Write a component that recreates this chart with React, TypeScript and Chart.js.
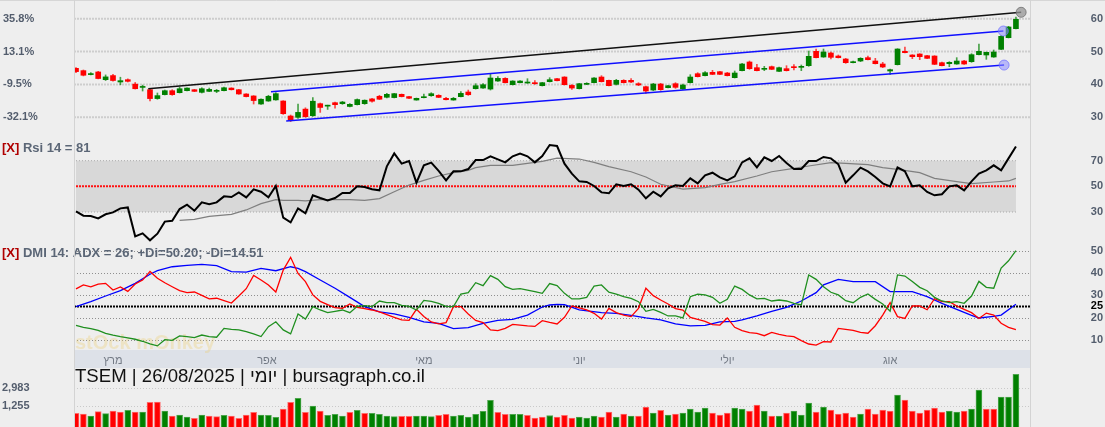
import React, { useEffect, useRef } from 'react';
import { Chart, registerables } from 'chart.js';

Chart.register(...registerables);

// ---------------- data ----------------
const opens = [
  44.9, 44.2, 43.0, 43.8, 41.45, 42.7, 40.75, 41.45, 40.1, 39.1,
  38.4, 35.7, 36.9, 38.1, 37.5, 38.1, 38.4, 37.6, 37.9, 37.9,
  38.1, 38.9, 38.4, 37.1, 36.5, 34.05, 34.96, 35.3, 34.96, 30.4,
  30.0, 32.5, 30.5, 34.15, 33.4, 34.45, 34.15, 33.3, 33.85, 34.15,
  35.6, 36.4, 36.1, 36.0, 37.0, 36.3, 35.26, 35.97, 36.58, 36.68,
  35.77, 35.26, 36.28, 37.7, 38.71, 38.91, 38.6, 41.04, 41.85, 39.93,
  40.54, 40.43, 40.54, 39.62, 40.84, 41.75, 42.26, 39.72, 38.71, 40.03,
  40.54, 42.26, 41.25, 40.03, 41.25, 41.25, 40.23, 39.32, 38.3, 40.13,
  39.02, 40.23, 38.61, 40.54, 43.27, 42.67, 43.68, 43.88, 43.48, 42.06,
  44.19, 46.83, 45.1, 44.6, 45.41, 43.99, 44.8, 45.31, 45.2, 45.71,
  50.07, 48.35, 49.57, 48.65, 47.74, 46.62, 47.13, 48.15, 47.13, 46.22,
  44.09, 46.02, 50.07, 48.96, 49.26, 48.75, 48.65, 46.62, 46.32, 46.22,
  47.13, 46.93, 49.06, 48.96, 48.35, 50.68, 54.23, 56.97,
];
const highs = [
  45.1, 44.4, 43.6, 44.0, 42.9, 43.1, 42.2, 41.7, 40.6, 39.8,
  38.8, 37.4, 38.3, 38.4, 39.2, 39.0, 38.5, 39.0, 38.9, 38.5,
  39.2, 39.0, 38.5, 37.2, 36.6, 35.6, 36.7, 37.5, 35.06, 30.7,
  34.05, 32.9, 35.98, 34.35, 33.7, 34.66, 34.86, 34.15, 35.6, 35.3,
  35.8, 36.7, 37.3, 37.3, 37.1, 36.4, 35.87, 37.09, 37.49, 36.88,
  36.07, 36.07, 37.8, 38.3, 40.23, 40.23, 43.17, 42.36, 42.06, 41.14,
  41.14, 41.75, 41.14, 40.64, 42.06, 41.85, 42.36, 39.93, 40.33, 40.54,
  42.06, 42.67, 41.35, 41.55, 41.45, 41.75, 40.54, 39.52, 40.33, 40.33,
  39.72, 40.54, 40.13, 42.97, 43.58, 43.88, 44.29, 43.98, 43.68, 44.09,
  46.42, 47.13, 46.12, 45.51, 45.61, 45.31, 45.71, 46.02, 45.92, 50.17,
  50.78, 50.78, 49.87, 48.96, 47.94, 47.13, 48.15, 48.65, 47.94, 46.73,
  44.7, 50.88, 51.39, 49.06, 49.36, 48.86, 48.75, 46.83, 46.93, 48.15,
  47.33, 49.36, 52.3, 49.87, 50.48, 54.84, 57.68, 60.52,
];
const lows = [
  43.6, 42.6, 42.9, 41.7, 41.2, 41.0, 39.9, 40.75, 38.6, 38.0,
  35.0, 35.5, 36.8, 36.7, 37.4, 38.0, 37.8, 37.4, 37.8, 37.5,
  38.0, 38.3, 37.0, 36.2, 34.05, 33.95, 34.86, 35.2, 30.9, 28.7,
  29.7, 30.0, 30.3, 31.5, 32.4, 32.8, 33.95, 33.2, 33.75, 33.95,
  34.6, 35.4, 35.9, 35.9, 36.2, 35.7, 35.2, 35.87, 36.38, 35.97,
  35.26, 35.2, 36.17, 36.68, 38.6, 38.81, 38.3, 40.94, 40.43, 39.83,
  40.43, 40.33, 40.03, 39.52, 40.74, 41.04, 39.83, 38.51, 38.61, 39.93,
  40.43, 40.74, 39.52, 39.83, 40.43, 40.54, 39.62, 37.29, 38.1, 38.2,
  38.91, 38.81, 38.51, 40.43, 42.26, 42.56, 42.97, 42.97, 42.57, 41.96,
  44.09, 44.6, 44.09, 44.19, 44.5, 43.89, 44.09, 44.39, 44.19, 45.51,
  48.04, 48.25, 47.74, 48.04, 46.42, 46.52, 46.93, 47.43, 46.22, 45.1,
  43.07, 45.92, 49.57, 47.84, 47.54, 47.84, 46.02, 45.61, 45.41, 46.12,
  46.12, 46.73, 48.96, 47.64, 48.25, 50.58, 54.13, 56.87,
];
const closes = [
  43.9, 42.8, 43.3, 41.8, 42.3, 41.2, 41.15, 40.95, 38.7, 39.2,
  35.7, 36.6, 38.1, 36.9, 38.7, 38.9, 37.9, 38.7, 38.5, 38.2,
  39.0, 38.4, 37.1, 36.3, 35.1, 35.5, 36.4, 37.2, 31.1, 29.0,
  31.5, 30.2, 34.9, 33.0, 33.6, 33.85, 34.65, 33.95, 35.4, 35.2,
  34.9, 35.5, 37.0, 37.2, 36.3, 35.8, 35.77, 36.27, 37.19, 36.07,
  35.36, 35.77, 37.29, 36.88, 39.62, 39.93, 41.96, 41.85, 40.54, 41.04,
  41.04, 40.74, 40.23, 40.54, 41.45, 41.14, 39.93, 38.91, 40.23, 40.33,
  41.96, 40.84, 39.62, 41.25, 40.54, 40.74, 39.83, 38.0, 40.13, 38.41,
  39.62, 39.12, 39.83, 42.26, 42.36, 43.58, 43.07, 43.07, 42.67, 43.48,
  46.22, 44.8, 44.19, 44.9, 44.6, 45.1, 44.19, 45.1, 45.41, 48.55,
  48.15, 49.87, 48.25, 48.15, 46.62, 46.93, 47.94, 47.54, 46.32, 45.31,
  44.5, 50.78, 49.67, 48.45, 48.45, 47.94, 46.12, 45.71, 46.73, 47.13,
  46.22, 49.06, 50.07, 49.77, 49.87, 54.64, 57.48, 59.81,
];
const volumes = [
  561, 498, 309, 718, 529, 781, 687, 844, 687, 687,
  1599, 1631, 781, 309, 403, 215, 89, 403, 309, 246,
  372, 309, 89, 403, 655, 403, 372, 183, 970, 1599,
  1977, 655, 1253, 781, 372, 466, 309, 655, 844, 561,
  561, 466, 309, 246, 277, 277, 309, 309, 246, 372,
  466, 309, 372, 215, 466, 750, 1788, 655, 466, 466,
  466, 372, 120, 215, 356, 215, 372, 120, 215, 120,
  309, 215, 687, 215, 498, 309, 309, 1159, 592, 844,
  403, 498, 592, 970, 687, 1064, 592, 403, 592, 1064,
  970, 781, 1347, 781, 309, 309, 592, 781, 403, 1536,
  687, 1159, 875, 498, 592, 215, 498, 970, 498, 875,
  781, 2292, 1819, 781, 592, 875, 1064, 687, 781, 687,
  781, 970, 2764, 970, 970, 2103, 2103, 4243,
];
const volumeUp = [
  0, 0, 1, 0, 1, 0, 0, 1, 0, 1,
  0, 0, 1, 0, 1, 1, 0, 1, 0, 0,
  1, 0, 0, 0, 0, 1, 1, 1, 0, 0,
  1, 0, 1, 0, 1, 1, 1, 0, 1, 0,
  1, 1, 1, 1, 0, 0, 1, 1, 1, 0,
  0, 1, 1, 1, 1, 1, 1, 0, 0, 1,
  1, 0, 0, 0, 1, 0, 0, 0, 1, 1,
  1, 0, 0, 1, 0, 1, 0, 0, 1, 0,
  1, 0, 1, 1, 1, 1, 0, 0, 0, 1,
  1, 0, 0, 1, 0, 1, 0, 1, 1, 1,
  0, 1, 0, 0, 0, 0, 1, 0, 0, 0,
  0, 1, 0, 0, 0, 0, 0, 0, 1, 1,
  0, 1, 1, 0, 0, 1, 1, 1,
];
const rsi = [
  30.5, 27.1, 26.9, 25.05, 28.2, 29.7, 32.85, 33.6, 11.0, 13.35,
  7.9, 13.1, 22.5, 23.2, 32.3, 35.7, 31.0, 37.5, 36.0, 37.5,
  42.2, 41.7, 45.3, 41.4, 47.7, 45.8, 41.4, 50.3, 25.6, 21.9,
  32.85, 28.95, 43.0, 40.9, 39.1, 40.9, 44.8, 44.8, 50.0, 49.5,
  47.7, 46.9, 65.6, 75.7, 67.7, 69.8, 52.9, 66.4, 68.5, 62.0,
  54.7, 61.7, 61.7, 63.5, 70.5, 70.5, 73.4, 71.0, 68.7, 73.4,
  75.5, 73.4, 68.7, 73.7, 82.2, 81.45, 67.7, 59.9, 53.9, 53.4,
  50.3, 45.3, 44.6, 51.6, 50.3, 51.6, 47.4, 40.65, 45.85, 42.2,
  48.45, 50.8, 50.3, 56.2, 52.35, 58.6, 60.65, 57.0, 54.7, 57.8,
  68.7, 71.8, 64.8, 72.6, 69.75, 73.65, 68.2, 63.5, 63.5, 69.75,
  69.75, 72.9, 71.8, 67.2, 52.9, 58.6, 64.6, 61.7, 57.3, 52.35,
  50.0, 64.8, 61.7, 50.0, 50.8, 45.6, 43.0, 43.8, 50.0, 50.8,
  46.9, 53.9, 59.9, 62.5, 66.4, 62.5, 71.8, 81,
];
const rsiMaIdx = [
  14, 16, 18, 21, 23, 25, 27, 28, 30, 31, 33, 37, 39, 41, 43, 45, 47, 49, 51, 53,
  54, 56, 59, 61, 63, 65, 68, 70, 72, 75, 77, 79, 82, 85, 87, 89, 92, 94, 97, 99,
  102, 104, 107, 109, 111, 114, 116, 119, 121, 124, 126, 127,
];
const rsiMaVal = [
  23.5, 24.3, 26.6, 28.2, 31.6, 36.5, 39.6, 39.1, 39.1, 38.6, 39.6, 39.6, 39.1, 40.4, 45.85, 51.0, 54.7, 58.1, 60.65, 62.5,
  64.6, 66.4, 66.4, 67.9, 69.5, 72.0, 71.3, 68.7, 65.35, 61.4, 57.3, 51.6, 47.9, 48.95, 51.6, 53.65, 58.05, 61.4, 64.0, 65.85,
  68.5, 67.9, 66.9, 64.6, 63.3, 60.65, 56.2, 53.65, 52.1, 53.4, 54.2, 56.2,
];
const plusDi = [
  16.5, 15.6, 15.0, 14.2, 12.9, 12.1, 11.4, 10.8, 10.2, 9.3,
  8.1, 7.2, 10.0, 9.7, 11.7, 11.4, 10.9, 12.1, 11.4, 11.1,
  15.1, 14.7, 14.4, 13.6, 12.6, 11.4, 15.9, 18.1, 14.4, 12.6,
  21.6, 19.3, 24.9, 23.4, 22.2, 22.8, 23.4, 22.2, 25.05, 25.35,
  24.9, 27.45, 26.7, 26.7, 25.5, 25.05, 23.4, 27.75, 27.3, 26.4,
  25.05, 24.9, 30.6, 31.2, 35.7, 34.4, 38.9, 37.2, 33.9, 32.7,
  33.0, 32.4, 31.7, 30.9, 35.3, 34.4, 30.9, 28.4, 28.4, 29.1,
  34.2, 34.7, 31.4, 30.6, 29.4, 28.65, 27.15, 22.8, 23.7, 22.3,
  20.7, 20.7, 19.8, 29.4, 30.5, 30.2, 29.1, 26.4, 28.2, 34.2,
  32.7, 30.2, 28.4, 28.65, 27.45, 27.9, 27.45, 26.4, 25.65, 39.2,
  37.2, 33.9, 31.4, 30.2, 27.6, 26.7, 29.1, 30.6, 28.2, 26.1,
  22.9, 39.2, 38.7, 36.2, 33.6, 32.1, 29.1, 27.45, 26.7, 27.15,
  26.4, 29.7, 36.3, 33.6, 33.2, 42.3, 45.6, 50.2,
];
const minusDi = [
  32.9, 34.7, 33.8, 35.1, 35.4, 32.4, 33.8, 31.8, 35.1, 36.9,
  40.8, 37.7, 35.7, 33.9, 32.1, 31.2, 31.5, 30.0, 28.4, 28.7,
  27.6, 26.55, 29.7, 33.0, 39.0, 36.9, 34.7, 31.5, 41.4, 47.15,
  39.9, 36.2, 30.2, 27.3, 25.8, 24.45, 24.15, 26.1, 24.6, 24.0,
  23.4, 22.5, 21.3, 20.1, 18.9, 18.7, 23.7, 20.5, 18.0, 17.1,
  17.7, 24.9, 24.9, 21.6, 18.7, 17.7, 14.4, 14.1, 15.1, 16.9,
  16.6, 16.2, 16.0, 18.6, 17.8, 17.1, 20.1, 25.2, 24.3, 23.4,
  21.9, 19.3, 24.15, 22.2, 21.1, 20.4, 24.15, 33.2, 29.85, 27.9,
  26.1, 24.0, 23.4, 20.1, 19.2, 18.3, 16.8, 16.6, 19.8, 15.6,
  14.1, 13.2, 12.9, 11.8, 13.3, 12.4, 11.7, 11.4, 9.6, 8.06,
  7.6, 9.1, 8.96, 15.1, 14.7, 14.2, 13.3, 12.9, 16.3, 21.1,
  26.7, 20.4, 19.6, 25.2, 25.2, 23.5, 28.5, 27.15, 27.15, 25.2,
  23.7, 22.2, 19.6, 22.0, 21.1, 17.4, 15.6, 14.51,
];
const adxIdx = [
  0, 2, 4, 6, 8, 10, 11, 13, 15, 17, 19, 21, 23, 25, 27, 29, 30, 31, 33, 35,
  37, 39, 41, 43, 45, 47, 49, 51, 53, 55, 57, 59, 61, 63, 64, 65, 66, 68, 71, 73,
  75, 77, 79, 81, 83, 85, 87, 89, 90, 92, 94, 96, 98, 100, 101, 103, 105, 108, 110, 113,
  115, 117, 119, 121, 122, 124, 125, 127,
];
const adxVal = [
  24.9, 27.15, 29.7, 32.1, 35.4, 39.5, 41.1, 42.9, 43.5, 44.0, 43.4, 40.7, 40.5, 42.2, 41.1, 42.9, 42.2, 40.7, 36.9, 33.2,
  29.1, 24.9, 22.5, 21.6, 20.1, 18.0, 17.4, 15.0, 15.4, 17.4, 18.7, 19.2, 21.1, 24.75, 25.65, 25.95, 25.8, 23.4, 22.2, 21.9,
  21.0, 19.8, 18.9, 17.1, 16.2, 16.5, 18.0, 18.3, 18.9, 20.7, 22.8, 24.6, 27.45, 31.2, 34.7, 37.2, 36.2, 36.2, 31.7, 31.7,
  29.4, 26.4, 23.7, 21.0, 19.8, 20.5, 21.1, 26.0,
];
const trendBlack = [{ x: 9.76, y: 38.7 }, { x: 127.7, y: 61.95 }];
const trendUpper = [{ x: 26.35, y: 37.8 }, { x: 125.3, y: 56.26 }];
const trendLower = [{ x: 28.4, y: 28.9 }, { x: 125.4, y: 45.9 }];

const priceTicks = [60, 50, 40, 30];
const pctLabels = ['35.8%', '13.1%', '-9.5%', '-32.1%'];
const rsiTicks = [70, 50, 30];
const rsiBand = [30, 70];
const rsiMid = 50;
const dmiTicks = [50, 40, 30, 25, 20, 10];
const dmiKey = 25;
const volTicks = [2983, 1255];
const volLabels = ['2,983', '1,255'];
const monthLabels = ['מרץ', 'אפר', 'מאי', 'יוני', 'יולי', 'אוג'];
const monthPos = [5, 25.8, 47, 68, 88, 110];

const MAIN_TITLE = 'TSEM | 26/08/2025 | יומי | bursagraph.co.il';
const RSI_TITLE = 'Rsi 14 = 81';
const DMI_TITLE = 'DMI 14: ADX = 26; +Di=50.20; -Di=14.51';
const WATERMARK = 'stOck mOnkey';

// ---------------- layout / style ----------------
const W = 1105;
const FONT = "'Liberation Sans', Arial, sans-serif";
const AXIS_COLOR = '#535d6d';
const GREEN = '#008000';
const RED = '#ff0000';
const X_MIN = -0.27;
const X_MAX = 128.9;
const RIGHT_W = 73;

const P_MIN = 23.71, P_MAX = 65.69;
const R_MIN = 4.27, R_MAX = 87.7;
const D_MIN = 5.355, D_MAX = 52.706;
const V_MIN = -728, V_MAX = 4843;

Chart.defaults.font.family = FONT;
Chart.defaults.font.size = 11;

const baseOptions = (padding: any) => ({
  responsive: false,
  animation: false as const,
  devicePixelRatio: 1,
  events: [] as any[],
  layout: { padding, autoPadding: false },
  plugins: { legend: { display: false }, tooltip: { enabled: false }, title: { display: false } },
});

const xHidden = () => ({ type: 'linear', min: X_MIN, max: X_MAX, offset: false, display: false });

function fixedTicks(values: number[]) {
  return (s: any) => {
    s.ticks = values.map((v) => ({ value: v }));
  };
}
function fitWidth(w: number) {
  return (s: any) => {
    s.width = w;
    s.paddingTop = 0;
    s.paddingBottom = 0;
  };
}

function yAxis(position: string, min: number, max: number, ticks: number[], width: number, extraTicks: any = {}) {
  return {
    type: 'linear',
    position,
    min,
    max,
    afterBuildTicks: fixedTicks(ticks),
    afterFit: fitWidth(width),
    grid: { display: false, drawTicks: false },
    border: { display: false },
    ticks: {
      autoSkip: false,
      crossAlign: 'far',
      padding: 0,
      color: AXIS_COLOR,
      font: { family: FONT, size: 11, weight: 'bold' },
      ...extraTicks,
    },
  };
}

function hLine(ctx: CanvasRenderingContext2D, x0: number, x1: number, y: number, color: string, width: number, dash: number[]) {
  ctx.save();
  ctx.strokeStyle = color;
  ctx.lineWidth = width;
  ctx.setLineDash(dash);
  ctx.beginPath();
  ctx.moveTo(x0, y);
  ctx.lineTo(x1, y);
  ctx.stroke();
  ctx.restore();
}

const framePlugin = {
  id: 'frame',
  afterDraw(chart: any) {
    const { ctx, chartArea } = chart;
    ctx.save();
    ctx.strokeStyle = '#d3d3d3';
    ctx.lineWidth = 1;
    [chartArea.left, chartArea.right].forEach((x: number) => {
      ctx.beginPath();
      ctx.moveTo(Math.round(x) + 0.5, 0);
      ctx.lineTo(Math.round(x) + 0.5, chart.height);
      ctx.stroke();
    });
    ctx.restore();
  },
};

function drawPanelTitle(ctx: CanvasRenderingContext2D, text: string, y: number) {
  ctx.save();
  ctx.font = `bold 13px ${FONT}`;
  ctx.textBaseline = 'middle';
  ctx.textAlign = 'left';
  ctx.fillStyle = '#b00000';
  ctx.fillText('[X]', 2, y);
  const w = ctx.measureText('[X] ').width;
  ctx.fillStyle = '#5b6676';
  ctx.fillText(text, 2 + w, y);
  ctx.restore();
}

// ---------------- charts ----------------
function makePrice(canvas: HTMLCanvasElement) {
  const up = opens.map((o, i) => closes[i] >= o);
  const bodies = opens.map((o, i) => ({ x: i, y: [Math.min(o, closes[i]), Math.max(o, closes[i])] }));
  const wicks = opens.map((_, i) => ({ x: i, y: [lows[i], highs[i]] }));
  const trend = (data: any[], color: string, ptFill: string, ptStroke: string) => ({
    type: 'line',
    data,
    yAxisID: 'yR',
    borderColor: color,
    borderWidth: 1.4,
    pointRadius: [0, 5],
    pointBackgroundColor: ptFill,
    pointBorderColor: ptStroke,
    pointBorderWidth: 1,
    clip: false,
  });
  const gridPlugin = {
    id: 'priceGrid',
    beforeDatasetsDraw(chart: any) {
      const { ctx, chartArea } = chart;
      const ys = chart.scales.yR;
      priceTicks.forEach((v) => hLine(ctx, chartArea.left, chartArea.right, ys.getPixelForValue(v), '#cdcdcd', 2, [2, 1]));
      hLine(ctx, 0, W, 0.5, '#d6d6d6', 1, []);
    },
  };
  return new Chart(canvas, {
    type: 'bar',
    data: {
      datasets: [
        trend(trendBlack, '#111111', 'rgba(150,150,150,0.75)', 'rgba(110,110,110,0.8)'),
        trend(trendUpper, '#1010ff', 'rgba(140,140,255,0.55)', 'rgba(110,110,255,0.7)'),
        trend(trendLower, '#1010ff', 'rgba(140,140,255,0.55)', 'rgba(110,110,255,0.7)'),
        {
          type: 'bar',
          data: bodies,
          yAxisID: 'yR',
          grouped: false,
          barThickness: 5,
          minBarLength: 1,
          backgroundColor: up.map((u) => (u ? GREEN : RED)),
          borderWidth: 0,
        },
        {
          type: 'bar',
          data: wicks,
          yAxisID: 'yR',
          grouped: false,
          barThickness: 1,
          backgroundColor: up.map((u) => (u ? 'rgba(0,128,0,0.7)' : 'rgba(255,0,0,0.7)')),
          borderWidth: 0,
        },
      ] as any,
    },
    options: {
      ...baseOptions({ left: 3, right: 2, top: 0, bottom: 0 }),
      scales: {
        x: xHidden(),
        yL: yAxis('left', P_MIN, P_MAX, priceTicks, 71, { callback: (_v: any, i: number) => pctLabels[i] }),
        yR: yAxis('right', P_MIN, P_MAX, priceTicks, RIGHT_W, { callback: (v: any) => String(v) }),
      },
    } as any,
    plugins: [gridPlugin, framePlugin],
  });
}

function makeRsi(canvas: HTMLCanvasElement) {
  const bandPlugin = {
    id: 'rsiBand',
    beforeDatasetsDraw(chart: any) {
      const { ctx } = chart;
      const xs = chart.scales.x;
      const ys = chart.scales.yR;
      const x0 = xs.getPixelForValue(0);
      const x1 = xs.getPixelForValue(rsi.length - 1);
      const yTop = ys.getPixelForValue(rsiBand[1]);
      const yBot = ys.getPixelForValue(rsiBand[0]);
      ctx.save();
      ctx.fillStyle = '#d8d8d8';
      ctx.fillRect(x0, yTop, x1 - x0, yBot - yTop);
      ctx.restore();
      hLine(ctx, x0, x1, yTop, '#a9a9a9', 1, [1, 2]);
      hLine(ctx, x0, x1, yBot, '#a9a9a9', 1, [1, 2]);
      hLine(ctx, x0, x1, ys.getPixelForValue(rsiMid), '#ff1010', 2, [2, 1]);
    },
    afterDraw(chart: any) {
      drawPanelTitle(chart.ctx, RSI_TITLE, 10.5);
    },
  };
  return new Chart(canvas, {
    type: 'line',
    data: {
      datasets: [
        {
          data: rsi.map((v, i) => ({ x: i, y: v })),
          yAxisID: 'yR',
          borderColor: '#000000',
          borderWidth: 2,
          pointRadius: 0,
          tension: 0,
        },
        {
          data: rsiMaIdx.map((x, i) => ({ x, y: rsiMaVal[i] })),
          yAxisID: 'yR',
          borderColor: '#7f7f7f',
          borderWidth: 1.2,
          pointRadius: 0,
          tension: 0,
        },
      ] as any,
    },
    options: {
      ...baseOptions({ left: 74, right: 2, top: 0, bottom: 0 }),
      scales: {
        x: xHidden(),
        yR: yAxis('right', R_MIN, R_MAX, rsiTicks, RIGHT_W, { callback: (v: any) => String(v) }),
      },
    } as any,
    plugins: [bandPlugin, framePlugin],
  });
}

function makeDmi(canvas: HTMLCanvasElement) {
  const dmiPlugin = {
    id: 'dmiGrid',
    beforeDraw(chart: any) {
      const { ctx, chartArea } = chart;
      const xs = chart.scales.x;
      ctx.save();
      ctx.fillStyle = '#dde1e8';
      ctx.fillRect(chartArea.left, xs.top, chartArea.right - chartArea.left, xs.height);
      ctx.restore();
    },
    beforeDatasetsDraw(chart: any) {
      const { ctx, chartArea } = chart;
      const ys = chart.scales.yR;
      dmiTicks.forEach((v) => {
        if (v === dmiKey) return;
        hLine(ctx, chartArea.left, chartArea.right, Math.round(ys.getPixelForValue(v)) + 0.5, '#8f8f8f', 1, [1, 2]);
      });
      hLine(ctx, chartArea.left, chartArea.right, ys.getPixelForValue(dmiKey), '#000000', 2, [2, 1]);
      ctx.save();
      ctx.font = `bold 20px ${FONT}`;
      ctx.textBaseline = 'alphabetic';
      ctx.fillStyle = 'rgba(236,205,110,0.32)';
      ctx.fillText(WATERMARK, chartArea.left + 1, chartArea.bottom - 1);
      ctx.restore();
    },
    afterDraw(chart: any) {
      drawPanelTitle(chart.ctx, DMI_TITLE, 8.5);
    },
  };
  const line = (data: any[], color: string) => ({
    data,
    yAxisID: 'yR',
    borderColor: color,
    borderWidth: 1.3,
    pointRadius: 0,
    tension: 0,
  });
  return new Chart(canvas, {
    type: 'line',
    data: {
      datasets: [
        line(plusDi.map((v, i) => ({ x: i, y: v })), '#1f8f1f'),
        line(minusDi.map((v, i) => ({ x: i, y: v })), '#ff0000'),
        line(adxIdx.map((x, i) => ({ x, y: adxVal[i] })), '#0000ff'),
      ] as any,
    },
    options: {
      ...baseOptions({ left: 74, right: 2, top: 0, bottom: 0 }),
      scales: {
        x: {
          type: 'linear',
          min: X_MIN,
          max: X_MAX,
          offset: false,
          position: 'bottom',
          afterBuildTicks: fixedTicks(monthPos),
          afterFit: (s: any) => {
            s.height = 18;
            s.paddingLeft = 0;
            s.paddingRight = 0;
          },
          grid: { display: false, drawTicks: false },
          border: { display: false },
          ticks: {
            autoSkip: false,
            maxRotation: 0,
            padding: 4,
            color: '#737a85',
            font: { family: FONT, size: 11 },
            callback: (_v: any, i: number) => monthLabels[i],
          },
        },
        yR: yAxis('right', D_MIN, D_MAX, dmiTicks, RIGHT_W, {
          callback: (v: any) => String(v),
          color: (c: any) => (c.tick && c.tick.value === dmiKey ? '#000000' : AXIS_COLOR),
          font: () => ({ family: FONT, size: 11, weight: 'bold' }),
        }),
      },
    } as any,
    plugins: [dmiPlugin, framePlugin],
  });
}

function makeVolume(canvas: HTMLCanvasElement) {
  const volPlugin = {
    id: 'volGrid',
    beforeDatasetsDraw(chart: any) {
      const { ctx, chartArea } = chart;
      const ys = chart.scales.yL;
      volTicks.forEach((v) => hLine(ctx, chartArea.left, chartArea.right, Math.round(ys.getPixelForValue(v)) + 0.5, '#c9c9c9', 1, [1, 2]));
    },
    afterDraw(chart: any) {
      const { ctx, chartArea } = chart;
      ctx.save();
      ctx.font = `18.6px ${FONT}`;
      ctx.fillStyle = '#111111';
      ctx.textBaseline = 'middle';
      ctx.textAlign = 'left';
      ctx.fillText(MAIN_TITLE, chartArea.left + 1, 8.5);
      ctx.restore();
    },
  };
  return new Chart(canvas, {
    type: 'bar',
    data: {
      datasets: [
        {
          data: volumes.map((v, i) => ({ x: i, y: v })),
          yAxisID: 'yL',
          base: V_MIN,
          grouped: false,
          barThickness: 6,
          backgroundColor: volumeUp.map((u) => (u ? GREEN : RED)),
          borderColor: volumeUp.map((u) => (u ? '#4da64d' : '#ff6a6a')),
          borderWidth: 1,
        },
      ] as any,
    },
    options: {
      ...baseOptions({ left: 2, right: 2 + RIGHT_W, top: 0, bottom: 0 }),
      scales: {
        x: xHidden(),
        yL: yAxis('left', V_MIN, V_MAX, volTicks, 72, { callback: (_v: any, i: number) => volLabels[i] }),
      },
    } as any,
    plugins: [volPlugin, framePlugin],
  });
}

function Panel({ top, height, make }: { top: number; height: number; make: (c: HTMLCanvasElement) => Chart }) {
  const ref = useRef<HTMLCanvasElement>(null);
  useEffect(() => {
    const chart = make(ref.current as HTMLCanvasElement);
    return () => chart.destroy();
  }, []);
  return (
    <canvas
      ref={ref}
      width={W}
      height={height}
      style={{ position: 'absolute', left: 0, top, width: W, height, display: 'block' }}
    />
  );
}

export default function App() {
  return (
    <div
      style={{
        position: 'absolute',
        left: 0,
        top: 0,
        width: W,
        height: 427,
        background: '#eeeeee',
        overflow: 'hidden',
      }}
    >
      <Panel top={0} height={138} make={makePrice} />
      <Panel top={138} height={107} make={makeRsi} />
      <Panel top={245} height={123} make={makeDmi} />
      <Panel top={368} height={59} make={makeVolume} />
    </div>
  );
}
